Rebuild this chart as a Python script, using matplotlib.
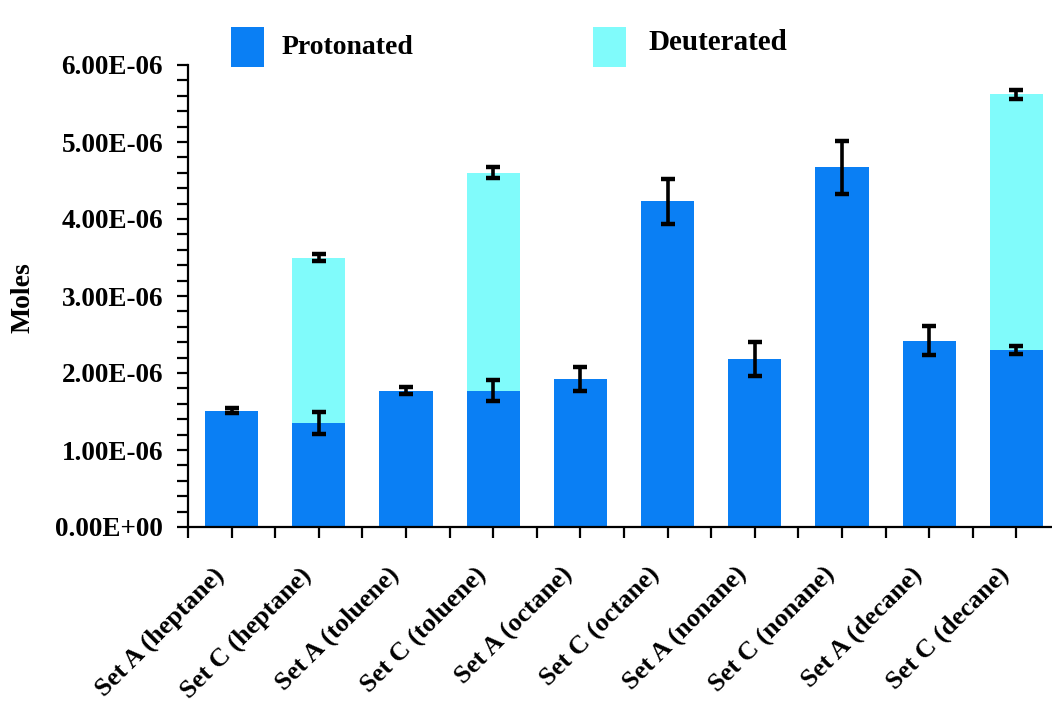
import numpy as np
import matplotlib
matplotlib.use("Agg")
from matplotlib import pyplot as plt
from matplotlib.patches import Rectangle
from matplotlib.ticker import MultipleLocator, FuncFormatter
from matplotlib.transforms import ScaledTranslation

plt.rcParams['font.family'] = 'Liberation Serif'
plt.rcParams['font.weight'] = 'bold'

# samples, moles of each species and their error bars
samples = ['Set A (heptane)', 'Set C (heptane)', 'Set A (toluene)', 'Set C (toluene)',
           'Set A (octane)', 'Set C (octane)', 'Set A (nonane)', 'Set C (nonane)',
           'Set A (decane)', 'Set C (decane)']
protonated = np.array([1.51, 1.35, 1.77, 1.77, 1.92, 4.23, 2.18, 4.67, 2.42, 2.30]) * 1e-6
protonated_err = np.array([0.03, 0.14, 0.045, 0.14, 0.16, 0.29, 0.22, 0.34, 0.19, 0.055]) * 1e-6
deuterated = np.array([0, 2.15, 0, 2.83, 0, 0, 0, 0, 0, 3.32]) * 1e-6
deuterated_err = np.array([0, 0.05, 0, 0.07, 0, 0, 0, 0, 0, 0.06]) * 1e-6

blue = '#0a7ff4'
cyan = '#80fbfb'

fig = plt.figure(figsize=(10.52, 7.09), dpi=100)
W, H = 1052, 709
# axes in pixel terms: x from 188 to 1060, y from 65 to 527
ax = fig.add_axes([188 / W, (H - 527) / H, (1060 - 188) / W, (527 - 65) / H])

x = np.arange(len(samples))
width = 0.61
ax.bar(x, protonated, width, color=blue, zorder=2)
ax.bar(x, deuterated, width, bottom=protonated, color=cyan, zorder=2)

ekw = dict(fmt='none', ecolor='black', elinewidth=2.6, capsize=4.8, capthick=3.2, zorder=3)
ax.errorbar(x, protonated, yerr=protonated_err, **ekw)
has_d = deuterated > 0
ax.errorbar(x[has_d], (protonated + deuterated)[has_d], yerr=deuterated_err[has_d], **ekw)

ax.set_xlim(-0.5, 9.5)
ax.set_ylim(0, 6e-6)
ax.yaxis.set_major_locator(MultipleLocator(1e-6))
ax.yaxis.set_minor_locator(MultipleLocator(0.2e-6))
ax.yaxis.set_major_formatter(FuncFormatter(lambda v, p: '%.2E' % v))
ax.set_xticks(x)
ax.set_xticks(np.arange(-0.5, 10, 1), minor=True)
ax.set_xticklabels(samples, rotation=45, ha='right', va='top', rotation_mode='anchor', fontsize=19)

for s in ['top', 'right']:
    ax.spines[s].set_visible(False)
for s in ['left', 'bottom']:
    ax.spines[s].set_linewidth(1.6)
ax.tick_params(axis='both', which='both', direction='out', length=8, width=1.6, color='black')
ax.tick_params(axis='y', which='major', labelsize=19.5, pad=10)
ax.tick_params(axis='x', which='major', pad=18)

# nudge the rotated names a little to the left
for lab in ax.get_xticklabels():
    lab.set_transform(lab.get_transform() + ScaledTranslation(-0.19, 0, fig.dpi_scale_trans))

fig.text(23 / W, 1 - 298 / H, 'Moles', rotation=90, ha='center', va='center', fontsize=20)

# legend boxes drawn in figure pixel coords
legend_items = [(231, 282, 'Protonated', blue, 47, 20), (593, 648, 'Deuterated', cyan, 42, 21)]
for (px, tx, label, col, ty, fs) in legend_items:
    fig.add_artist(Rectangle((px / W, 1 - 67 / H), 33 / W, 40 / H, transform=fig.transFigure,
                             facecolor=col, edgecolor='none'))
    fig.text(tx / W, 1 - ty / H, label, ha='left', va='center', fontsize=fs)

fig.savefig('out.png', dpi=100)
